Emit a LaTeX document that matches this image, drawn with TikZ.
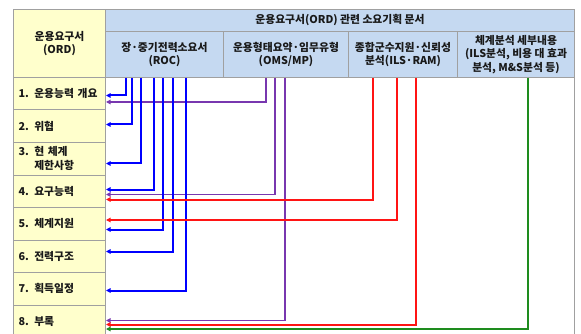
\documentclass[tikz,border=0pt]{standalone}
\usepackage{fontspec}
\setmainfont{Noto Sans CJK KR}
\usetikzlibrary{arrows.meta}
\definecolor{gridc}{RGB}{160,160,160}
\definecolor{hdrc}{RGB}{197,217,241}
\definecolor{ordc}{RGB}{255,255,204}
\definecolor{txtc}{RGB}{25,25,25}
\definecolor{lblue}{RGB}{0,0,255}
\definecolor{lpurple}{RGB}{120,55,175}
\definecolor{lred}{RGB}{255,20,20}
\definecolor{lgreen}{RGB}{30,140,30}
\newcommand\tblfont{\bfseries\fontsize{10.8}{13.8}\selectfont}
\begin{document}
\begin{tikzpicture}[x=1pt,y=-1pt,
  grid/.style={draw=gridc, line width=1pt},
  hdr/.style={grid, fill=hdrc, anchor=north west, inner sep=0pt, align=center, font=\tblfont, text=txtc},
  ordhdr/.style={grid, fill=ordc, anchor=north west, inner sep=0pt, align=center, font=\tblfont, text=txtc},
  ordrow/.style={grid, fill=ordc, anchor=north west, inner ysep=0pt, inner xsep=5pt, minimum width=92pt, text width=82pt, minimum height=32.5pt, align=left, font=\tblfont, text=txtc},
  tip/.style={-{Triangle[length=4.5pt,width=4.5pt]}},
  bl/.style={tip, color=lblue, line width=2pt},
  pu/.style={tip, color=lpurple, line width=1.6pt},
  rd/.style={tip, color=lred, line width=2pt},
  gr/.style={tip, color=lgreen, line width=1.6pt}]
\useasboundingbox (0,0) rectangle (581,334);
\clip (0,0) rectangle (581,334);
% header
\node[ordhdr, minimum width=92pt, minimum height=68pt] (ordh) at (13,9) {운용요구서\\(ORD)};
\node[hdr, minimum width=469pt, minimum height=22pt] (top) at (105,9) {운용요구서(ORD) 관련 소요기획 문서};
\node[hdr, minimum width=118pt, minimum height=46pt] (roc) at (105,31) {장·중기전력소요서\\(ROC)};
\node[hdr, minimum width=125pt, minimum height=46pt] (oms) at (223,31) {운용형태요약·임무유형\\(OMS/MP)};
\node[hdr, minimum width=109pt, minimum height=46pt] (ils) at (348,31) {종합군수지원·신뢰성\\분석(ILS·RAM)};
\node[hdr, minimum width=117pt, minimum height=46pt] (sys) at (457,31) {체계분석 세부내용\\(ILS분석, 비용 대 효과\\분석, M\&S분석 등)};
\node[grid, anchor=north west, inner sep=0pt, minimum width=469pt, minimum height=263pt] (body) at (105,77) {};
% rows
\node[ordrow] (r1) at (13,77) {1. 운용능력 개요};
\node[ordrow] (r2) at (13,109.5) {2. 위협};
\node[ordrow] (r3) at (13,142) {3. 현 체계\\\hphantom{3. }제한사항};
\node[ordrow] (r4) at (13,174.5) {4. 요구능력};
\node[ordrow] (r5) at (13,207) {5. 체계지원};
\node[ordrow] (r6) at (13,239.5) {6. 전력구조};
\node[ordrow] (r7) at (13,272) {7. 획득일정};
\node[ordrow] (r8) at (13,304.5) {8. 부록};
% purple
\draw[pu] ([xshift=43pt]oms.south west) |- ([yshift=-8.25pt]r1.east);
\draw[pu] ([xshift=52pt]oms.south west) |- ([yshift=-3.25pt]r4.east);
\draw[pu] ([xshift=62pt]oms.south west) |- ([yshift=0.75pt]r8.east);
% blue
\draw[bl] ([xshift=21pt]roc.south west) |- ([yshift=-1.75pt]r1.east);
\draw[bl] ([xshift=27pt]roc.south west) |- ([yshift=1.75pt]r2.east);
\draw[bl] ([xshift=36pt]roc.south west) |- ([yshift=-4.75pt]r3.east);
\draw[bl] ([xshift=49pt]roc.south west) |- ([yshift=1.75pt]r4.east);
\draw[bl] ([xshift=58pt]roc.south west) |- ([yshift=-5.75pt]r5.east);
\draw[bl] ([xshift=68pt]roc.south west) |- ([yshift=4.75pt]r6.east);
\draw[bl] ([xshift=81pt]roc.south west) |- ([yshift=-1.75pt]r7.east);
% red
\draw[rd] ([xshift=25pt]ils.south west) |- ([yshift=-8.25pt]r4.east);
\draw[rd] ([xshift=49pt]ils.south west) |- ([yshift=3.75pt]r5.east);
\draw[rd] ([xshift=68pt]ils.south west) |- ([yshift=-3.25pt]r8.east);
% green
\draw[gr] ([xshift=71pt]sys.south west) |- ([yshift=-7.75pt]r8.east);
\end{tikzpicture}
\end{document}
